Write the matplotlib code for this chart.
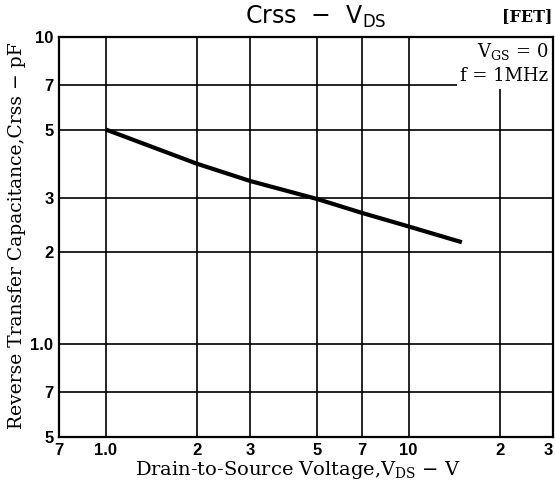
import matplotlib
matplotlib.use("Agg")
import matplotlib.pyplot as plt
from matplotlib.patches import Rectangle

# Data
vds = [1.0, 2.0, 3.0, 5.0, 7.0, 10.0, 15.0]
crss = [5.0, 3.87, 3.4, 2.97, 2.68, 2.42, 2.15]

xticks = [0.7, 1.0, 2.0, 3.0, 5.0, 7.0, 10.0, 20.0, 30.0]
xticklabels = ["7", "1.0", "2", "3", "5", "7", "10", "2", "3"]
yticks = [0.5, 0.7, 1.0, 2.0, 3.0, 5.0, 7.0, 10.0]
yticklabels = ["5", "7", "1.0", "2", "3", "5", "7", "10"]

W, H = 555, 495
fig = plt.figure(figsize=(W / 100, H / 100), dpi=100)
ax = fig.add_axes([59 / W, (H - 437) / H, 494 / W, 400 / H])

ax.set_xscale("log")
ax.set_yscale("log")
ax.set_xlim(0.7, 30)
ax.set_ylim(0.5, 10)

ax.plot(vds, crss, color="black", lw=3.0, solid_capstyle="butt", zorder=3)

ax.set_xticks(xticks)
ax.set_xticklabels(xticklabels)
ax.set_yticks(yticks)
ax.set_yticklabels(yticklabels)
ax.minorticks_off()
ax.tick_params(length=0, pad=4)
for lab in ax.get_xticklabels() + ax.get_yticklabels():
    lab.set_fontfamily("Liberation Sans")
    lab.set_fontweight("bold")
    lab.set_fontsize(12)
ax.get_xticklabels()[-1].set_horizontalalignment("right")

ax.set_axisbelow(True)
ax.grid(True, which="major", color="black", lw=1.2)
for s in ax.spines.values():
    s.set_linewidth(1.6)

# white box behind condition text
ax.add_patch(Rectangle((0.806, 0.87), 0.194, 0.13, transform=ax.transAxes,
                       facecolor="white", edgecolor="none", zorder=1))
ax.text(0.99, 0.99, r"V$_{\mathregular{GS}}$ = 0", transform=ax.transAxes,
        ha="right", va="top", fontsize=13, family="DejaVu Serif", zorder=4)
ax.text(0.99, 0.925, "f = 1MHz", transform=ax.transAxes,
        ha="right", va="top", fontsize=13, family="DejaVu Serif", zorder=4)

fig.text(17 / W, 1 - 236 / H, "Reverse Transfer Capacitance,Crss \u2212 pF",
         rotation=90, ha="center", va="center", fontsize=13.5, family="DejaVu Serif")
fig.text(298 / W, 1 - 470 / H, r"Drain-to-Source Voltage,V$_{\mathregular{DS}}$ $-$ V",
         ha="center", va="center", fontsize=14, family="DejaVu Serif")

fig.text(316 / W, 1 - 17 / H, r"Crss  $-$  V$_{\mathregular{DS}}$",
         ha="center", va="center", fontsize=17, family="DejaVu Sans")
fig.text(552 / W, 1 - 17 / H, "[FET]", ha="right", va="center", fontsize=11.5,
         family="DejaVu Serif", fontweight="bold")

fig.savefig("out.png", dpi=100)
